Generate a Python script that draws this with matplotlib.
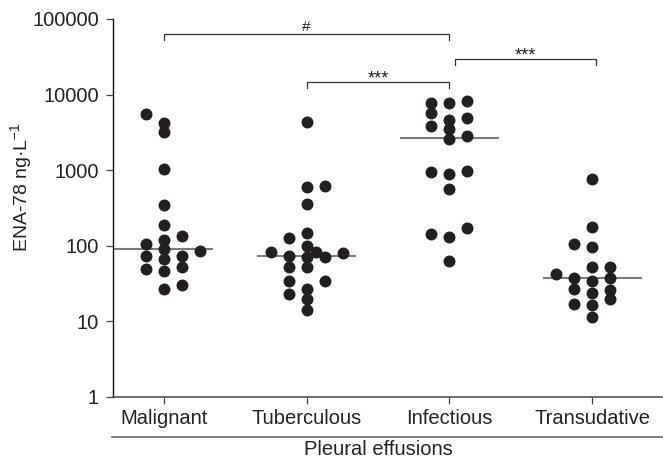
import numpy as np
import matplotlib.pyplot as plt
from matplotlib.lines import Line2D
from matplotlib.transforms import blended_transform_factory

plt.rcParams['font.family'] = ['Liberation Sans', 'DejaVu Sans']
plt.rcParams['mathtext.fontset'] = 'custom'
plt.rcParams['mathtext.rm'] = 'Liberation Sans'

groups = ['Malignant', 'Tuberculous', 'Infectious', 'Transudative']

# ENA-78 values (ng/L), with the swarm column of each dot
malignant = [5540, 4250, 3200, 1040, 347, 188, 136, 119, 105, 91, 85, 74, 74, 66, 49, 53, 46, 27, 30]
malignant_col = [-1, 0, 0, 0, 0, 0, 1, 0, -1, 0, 2, -1, 1, 0, -1, 1, 0, 0, 1]

tuberculous = [4300, 594, 618, 354, 149, 126, 99, 84, 84, 74, 72, 72, 80, 53, 53, 34, 34, 27, 23, 20, 14]
tuberculous_col = [0, 0, 1, 0, 0, -1, 0, -2, 0.5, -1, 0, 1, 2, -1, 0, -1, 1, 0, -1, 0, 0]

infectious = [7670, 7810, 8230, 5660, 4950, 4620, 3880, 3510, 2830, 2590, 938, 883, 975, 564, 143, 132, 174, 62]
infectious_col = [-1, 0, 1, -1, 1, 0, -1, 0, 1, 0, -1, 0, 1, 0, -1, 0, 1, 0]

transudative = [758, 176, 105, 97, 52, 53, 42, 38, 38, 34, 27, 26, 24, 20, 17, 16.5, 11.5]
transudative_col = [0, 0, -1, 0, 0, 1, -2, -1, 1, 0, -1, 1, 0, 1, -1, 0, 0]

medians = [91, 74, 2640, 37]

# significance brackets: left x, right x, height, label
brackets = [
    (0.0, 2.0, 62800, '#'),
    (1.0, 2.0, 14700, '***'),
    (2.04, 3.03, 29600, '***'),
]

yticks = [1, 10, 100, 1000, 10000, 100000]
ytick_labels = ['1', '10', '100', '1000', '10000', '100000']

values = [malignant, tuberculous, infectious, transudative]
columns = [malignant_col, tuberculous_col, infectious_col, transudative_col]

fig = plt.figure(figsize=(6.63, 4.59), dpi=100)
ax = fig.add_axes([113 / 663, 62 / 459, 549 / 663, 378 / 459])

col_step = 0.126
dot_color = '#231f20'
for i, (vals, cols) in enumerate(zip(values, columns)):
    xs = i + np.array(cols) * col_step
    ax.scatter(xs, vals, s=74, color=dot_color, linewidths=0, zorder=3)
    ax.plot([i - 0.34, i + 0.34], [medians[i], medians[i]], color='#7a7a7a', lw=1.5, zorder=2)

drop = 10 ** (-6 / 75.6)
for x1, x2, y, label in brackets:
    ax.plot([x1, x1, x2, x2], [y * drop, y, y, y * drop], color='#333333', lw=0.9, clip_on=False)
    if label == '#':
        ax.annotate(label, ((x1 + x2) / 2, y), xytext=(0, 2), textcoords='offset points',
                    ha='center', va='baseline', fontsize=11, color='#222222')
    else:
        ax.annotate(label, ((x1 + x2) / 2, y), xytext=(0, -1), textcoords='offset points',
                    ha='center', va='baseline', fontsize=13, color='#222222')

ax.set_yscale('log')
ax.set_ylim(1, 100000)
ax.set_xlim(-0.357, 3.49)
ax.set_yticks(yticks)
ax.set_yticklabels(ytick_labels)
ax.yaxis.set_minor_locator(plt.NullLocator())
ax.set_xticks(range(len(groups)))
ax.set_xticklabels(groups)

ax.spines['top'].set_visible(False)
ax.spines['right'].set_visible(False)
ax.spines['left'].set_color('#111111')
ax.spines['bottom'].set_color('#555555')
ax.spines['left'].set_linewidth(1.0)
ax.spines['bottom'].set_linewidth(1.2)
ax.tick_params(axis='y', length=5, width=0.9, color='#444444', labelsize=14.5, pad=5, labelcolor='#222222')
ax.tick_params(axis='x', length=5, width=0.9, color='#444444', labelsize=14.5, pad=4, labelcolor='#222222')

fig.text(22 / 663, 1 - 187 / 459, 'ENA-78 ng·L$^{-1}$', rotation=90, ha='center', va='center',
         fontsize=14, color='#222222')

# group line and label under the tick labels
fig.add_artist(Line2D([112 / 663, 662 / 663], [1 - 437 / 459, 1 - 437 / 459],
                      transform=fig.transFigure, color='#666666', lw=1.2))
trans = blended_transform_factory(ax.transData, fig.transFigure)
ax.text(1.5, 1 - 455 / 459, 'Pleural effusions', transform=trans, ha='center', va='baseline',
        fontsize=14.5, color='#222222')

fig.savefig('out.png', dpi=100)
